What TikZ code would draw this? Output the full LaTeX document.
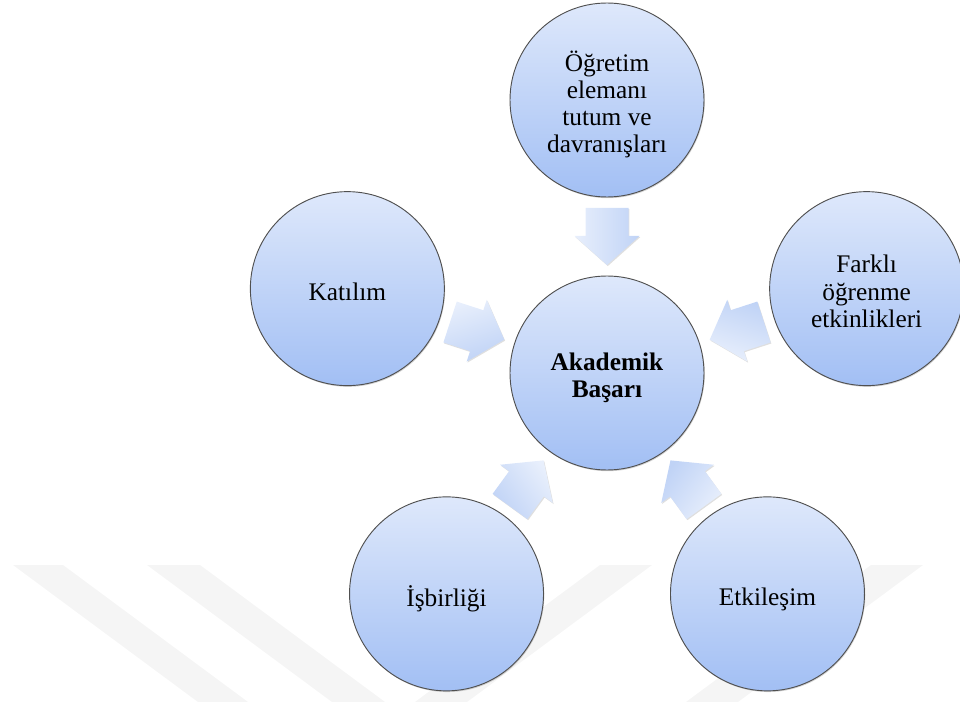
\documentclass[tikz,border=0pt]{standalone}
\usepackage{fontspec}
\setmainfont{Liberation Serif}
\usetikzlibrary{shadows, positioning, calc}
\definecolor{circtop}{HTML}{DEE8FB}
\definecolor{circbot}{HTML}{A2BFF4}
\definecolor{arrtop}{HTML}{E8EFFC}
\definecolor{arrbot}{HTML}{C0D3F6}
\definecolor{rimgray}{HTML}{505050}
\newcommand{\circtext}[1]{\raisebox{-4.5pt}[\height][\depth]{\begin{tabular}{@{}c@{}}#1\end{tabular}}}
\tikzset{
  factor/.style={circle, minimum size=145.5pt, inner sep=0pt,
    draw=rimgray, line width=0.7pt, top color=circtop, bottom color=circbot,
    drop shadow={shadow xshift=0.6pt, shadow yshift=-0.9pt, opacity=0.35},
    font=\fontsize{19}{20.3}\selectfont},
  core/.style={factor, font=\fontsize{19}{20.3}\selectfont\bfseries},
  blockarrow/.style={draw=none, top color=arrtop, bottom color=arrbot,
    drop shadow={shadow xshift=0.6pt, shadow yshift=-0.8pt, opacity=0.25}},
  stripe/.style={fill=black!4, draw=none},
}

\begin{document}
\begin{tikzpicture}[x=0.75pt, y=0.75pt]
  \useasboundingbox (0,0) rectangle (960,-702);

  % Watermark stripes
  \fill[stripe] (13,-565) -- (63,-565) -- (248,-702) -- (198,-702) -- cycle;
  \fill[stripe] (147,-565) -- (200,-565) -- (385,-702) -- (332,-702) -- cycle;
  \fill[stripe] (600,-565) -- (652,-565) -- (467,-702) -- (415,-702) -- cycle;
  \fill[stripe] (871,-565) -- (923,-565) -- (738,-702) -- (686,-702) -- cycle;

  % Centre
  \node[core] (cen) at (607,-373) {\circtext{Akademik\\Başarı}};

  % Factors
  \node[factor] (ogr) at ($(cen)+(90:273)$) {\circtext{Öğretim\\elemanı\\tutum ve\\davranışları}};
  \node[factor] (fark) at ($(cen)+(18:273)$) {\circtext{Farklı\\öğrenme\\etkinlikleri}};
  \node[factor] (etk) at ($(cen)+(-54:273)$) {\circtext{Etkileşim}};
  \node[factor] (isb) at ($(cen)+(234:273)$) {\circtext{İşbirliği}};
  \node[factor] (kat) at ($(cen)+(162:273)$) {\circtext{Katılım}};

  % Block arrows, half way between each factor and the centre
  \foreach \src/\ang in {ogr/270, fark/198, etk/126, isb/54, kat/-18}
    \path[blockarrow, shift={($(cen)!0.5!(\src)$)}, rotate=\ang, shading angle=-\ang]
      (-28.5,-21.5) -- (-0.5,-21.5) -- (-0.5,-32.5) -- (28.5,0)
      -- (-0.5,32.5) -- (-0.5,21.5) -- (-28.5,21.5) -- cycle;
\end{tikzpicture}
\end{document}
